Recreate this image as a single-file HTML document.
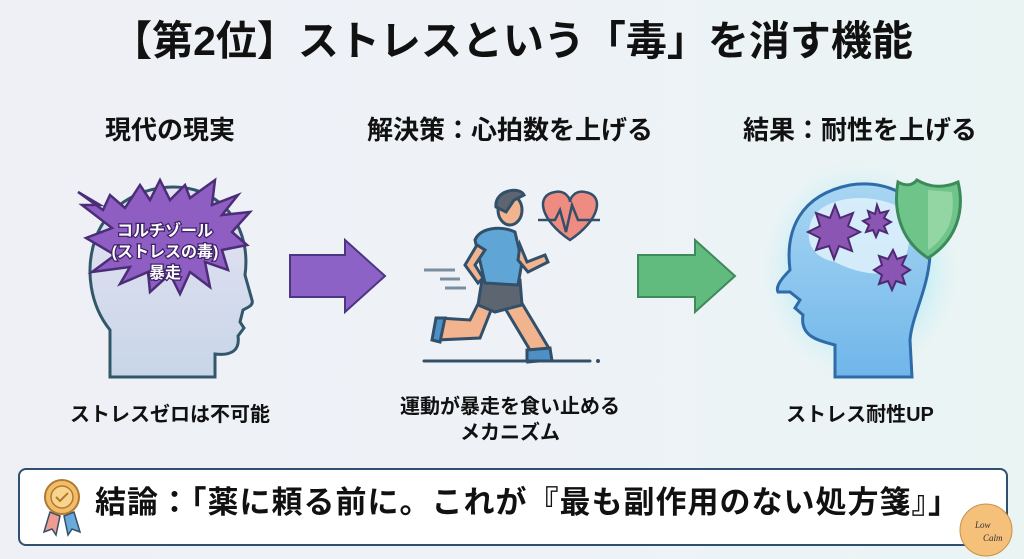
<!DOCTYPE html>
<html><head><meta charset="utf-8"><style>
html,body{margin:0;padding:0}
body{width:1024px;height:559px;overflow:hidden;position:relative;font-family:"Liberation Sans","Noto Sans CJK JP",sans-serif;font-weight:bold;color:#111;
background:linear-gradient(90deg,#eef0f6 0%,#eef2f7 50%,#eaf4f3 100%);}
.t{position:absolute;white-space:nowrap;text-align:center}
</style></head><body>
<div class="t" style="left:0;width:1024px;top:13px;font-size:41px;line-height:56px;letter-spacing:0px">【第2位】ストレスという「毒」を消す機能</div>
<div class="t" style="left:65px;width:210px;top:114px;font-size:26px;line-height:32px">現代の現実</div>
<div class="t" style="left:340px;width:340px;top:114px;font-size:26px;line-height:32px">解決策：心拍数を上げる</div>
<div class="t" style="left:710px;width:300px;top:114px;font-size:26px;line-height:32px">結果：耐性を上げる</div>

<svg style="position:absolute;left:0;top:0" width="1024" height="559">
<defs>
<linearGradient id="h1" x1="0" y1="0" x2="0" y2="1"><stop offset="0" stop-color="#e6e3f2"/><stop offset="1" stop-color="#c7d6e8"/></linearGradient>
<linearGradient id="h2" x1="0" y1="0" x2="0" y2="1"><stop offset="0" stop-color="#a8d6f2"/><stop offset="1" stop-color="#6fb6ea"/></linearGradient>
<radialGradient id="glow"><stop offset="0.6" stop-color="#b8ecf6" stop-opacity="0.8"/><stop offset="1" stop-color="#e8f5f5" stop-opacity="0"/></radialGradient>
</defs>
<path d="M110 377 L110 330 C90 305 85 270 95 240 C110 195 160 180 195 190 C235 202 250 240 245 275 L252 300 C254 306 246 308 243 310 L240 322 L244 328 L238 336 C240 350 232 356 215 354 L215 377 Z" fill="url(#h1)" stroke="#33576a" stroke-width="3"/>
<path d="M78 192 L103 210 L110 195 L125 208 L140 185 L150 200 L160 180 L170 200 L185 185 L190 198 L215 180 L212 205 L238 195 L222 215 L250 212 L232 232 L247 245 L222 250 L228 270 L205 262 L210 287 L190 272 L180 294 L170 274 L150 292 L148 272 L120 284 L130 267 L92 272 L115 255 L86 238 L112 228 L82 205 L100 205 Z" fill="#8e5ec2" stroke="#4b2d78" stroke-width="2.5"/>
<g font-size="16" fill="#fff" text-anchor="middle" stroke="#3d2266" stroke-width="2.5" paint-order="stroke">
<text x="165" y="236">コルチゾール</text>
<text x="165" y="257">(ストレスの毒)</text>
<text x="165" y="278">暴走</text>
</g>
<path d="M290 255 L345 255 L345 240 L385 276 L345 312 L345 297 L290 297 Z" fill="#8c62c6" stroke="#4c3582" stroke-width="2"/>
<line x1="424" y1="361" x2="590" y2="361" stroke="#33506a" stroke-width="3" stroke-linecap="round"/>
<circle cx="598" cy="361" r="2" fill="#33506a"/>
<line x1="424" y1="270" x2="455" y2="270" stroke="#7a8ea0" stroke-width="3"/>
<line x1="440" y1="279" x2="460" y2="279" stroke="#7a8ea0" stroke-width="3"/>
<line x1="445" y1="288" x2="466" y2="288" stroke="#7a8ea0" stroke-width="3"/>
<path d="M490 280 L470 320 L438 318 L436 340 L480 338 L495 300 Z" fill="#f2b48e" stroke="#33506a" stroke-width="3"/>
<path d="M500 300 L530 350 L528 362 L550 360 L550 350 L520 300 Z" fill="#f2b48e" stroke="#33506a" stroke-width="3"/>
<path d="M436 318 L445 318 L440 342 L432 340 Z" fill="#4e8fc5" stroke="#33506a" stroke-width="3"/>
<path d="M527 350 L550 348 L552 361 L527 361 Z" fill="#4e8fc5" stroke="#33506a" stroke-width="3"/>
<path d="M482 280 L520 280 L522 305 L495 312 L478 305 Z" fill="#5d6670" stroke="#33506a" stroke-width="3"/>
<path d="M475 240 C480 228 500 225 515 232 L522 262 L518 285 L485 283 Z" fill="#5fa5d6" stroke="#33506a" stroke-width="3"/>
<path d="M520 245 L527 262 L545 255 L548 262 L528 272 L518 260 Z" fill="#f2b48e" stroke="#33506a" stroke-width="3"/>
<path d="M477 245 L465 265 L478 283 L483 278 L475 265 L485 250 Z" fill="#f2b48e" stroke="#33506a" stroke-width="3"/>
<ellipse cx="510" cy="210" rx="12" ry="15" fill="#f2b48e" stroke="#33506a" stroke-width="3"/>
<path d="M496 207 C494 190 520 186 524 195 L514 200 L506 212 Z" fill="#5d6670" stroke="#33506a" stroke-width="3"/>
<path d="M570 240 C540 220 535 195 555 192 C565 190 570 198 570 202 C570 198 575 190 585 192 C605 195 600 220 570 240 Z" fill="#ef8c82" stroke="#33506a" stroke-width="2.5"/>
<polyline points="538,220 555,220 560,210 566,232 572,205 578,220 600,220" fill="none" stroke="#33506a" stroke-width="2.5"/>
<path d="M638 255 L695 255 L695 240 L735 276 L695 312 L695 297 L638 297 Z" fill="#62bb7e" stroke="#3f8a5a" stroke-width="2"/>
<ellipse cx="860" cy="270" rx="105" ry="115" fill="url(#glow)"/>
<path d="M835 377 L835 345 C815 340 800 335 803 315 L795 308 L800 300 L790 292 L778 292 C776 288 778 282 790 270 C785 230 800 195 850 185 C895 178 935 205 930 255 C928 290 912 315 910 340 L912 377 Z" fill="url(#h2)" stroke="#2f6ba8" stroke-width="3"/>
<path d="M810 225 C815 200 860 190 895 205 C915 215 912 250 900 268 C880 280 850 270 835 262 C815 258 805 245 810 225 Z" fill="#dff1fb" opacity="0.85"/>
<polygon points="835,205 840,218 853,213 848,226 860,232 848,238 852,251 839,246 834,259 829,246 816,250 820,238 808,232 820,226 816,213 830,218" fill="#8a55b3" stroke="#4d2a72" stroke-width="2"/>
<polygon points="877,205 880,213 888,211 884,218 891,222 884,226 887,233 879,230 876,237 873,230 866,232 869,225 863,221 870,218 868,211 875,214" fill="#8a55b3" stroke="#4d2a72" stroke-width="2"/>
<polygon points="893,250 897,259 906,256 902,265 910,270 902,275 905,284 896,281 892,290 888,281 879,284 882,275 874,270 882,265 879,256 888,259" fill="#8a55b3" stroke="#4d2a72" stroke-width="2"/>
<path d="M917 180 C930 188 945 188 958 182 C965 210 957 240 928 258 C900 240 893 210 898 182 C905 186 912 186 917 180 Z" fill="#6fc48a" stroke="#3b8a5a" stroke-width="3"/>
<path d="M928 190 L928 250 C950 235 955 215 952 192 Z" fill="#93d6a4"/>
</svg>

<div style="position:absolute;left:18px;top:468px;width:986px;height:74px;border:2.5px solid #2f5070;border-radius:8px;background:#fff"></div>
<svg style="position:absolute;left:0;top:0" width="1024" height="559">
<path d="M50 512 L44 532 L52 529 L56 535 L60 516 Z" fill="#ef9b8f" stroke="#33506a" stroke-width="1.5"/>
<path d="M64 516 L68 535 L72 529 L80 532 L74 512 Z" fill="#6aa9d8" stroke="#33506a" stroke-width="1.5"/>
<circle cx="62" cy="497" r="17" fill="#f2bd6b" stroke="#b07a30" stroke-width="2"/>
<circle cx="62" cy="497" r="11" fill="#f8d48c" stroke="#b07a30" stroke-width="1.5"/>
<polyline points="56,497 60,501 68,493" fill="none" stroke="#b07a30" stroke-width="2"/>
<circle cx="986" cy="530" r="26" fill="#f5c07a" stroke="#c89048" stroke-width="1"/>
<text x="975" y="528" font-size="9" font-family="Liberation Serif,serif" font-style="italic" font-weight="normal" fill="#333">Low</text>
<text x="983" y="541" font-size="9" font-family="Liberation Serif,serif" font-style="italic" font-weight="normal" fill="#333">Calm</text>
</svg>
<div class="t" style="left:95px;top:481px;font-size:31px;line-height:44px;letter-spacing:1px">結論：「薬に頼る前に。これが『最も副作用のない処方箋』」</div>

<div class="t" style="left:30px;width:280px;top:402px;font-size:20px;line-height:26px">ストレスゼロは不可能</div>
<div class="t" style="left:360px;width:300px;top:394px;font-size:20px;line-height:26px">運動が暴走を食い止める<br>メカニズム</div>
<div class="t" style="left:730px;width:260px;top:402px;font-size:20px;line-height:26px">ストレス耐性UP</div>
</body></html>
